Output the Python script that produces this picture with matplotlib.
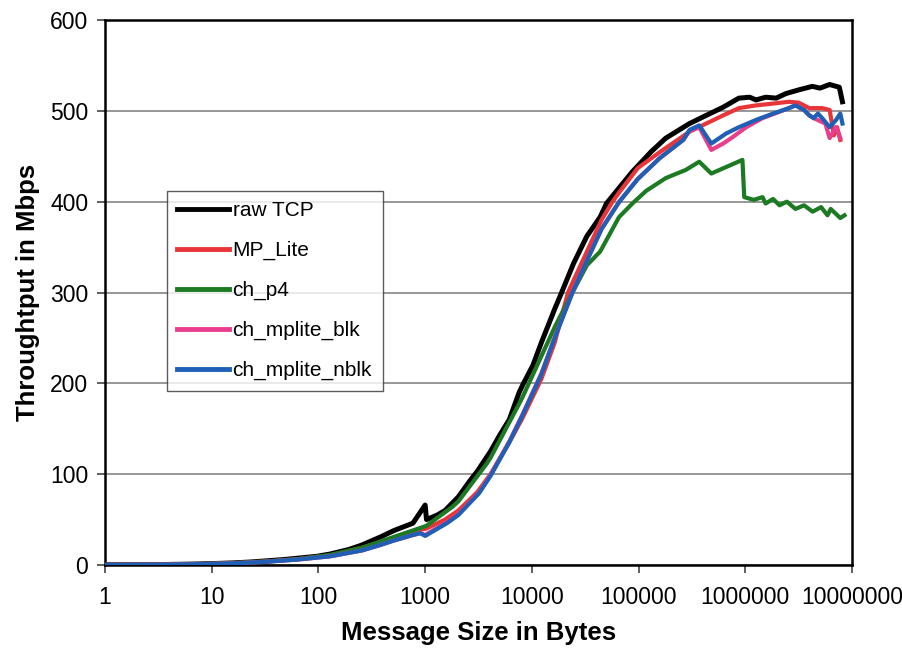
import numpy as np
import matplotlib.pyplot as plt
from matplotlib.ticker import FixedLocator, FixedFormatter

# values (message size in bytes, throughput in Mbps)
size_tcp = [1, 2, 3, 4, 6, 8, 12, 16, 24, 32, 48, 64, 96, 128, 192, 256, 384, 512, 768,
            1000, 1030, 1300, 1536, 2048, 2600, 3072, 4096, 5000, 6144, 7600, 8192, 10240,
            12288, 16384, 19000, 24576, 32768, 43600, 50000, 65536, 87500, 131072, 180000,
            300000, 430000, 620000, 870000, 1100000, 1260000, 1550000, 1950000, 2400000,
            3150000, 4250000, 5000000, 6160000, 7600000, 8130000]
tput_tcp = [0.15, 0.3, 0.45, 0.6, 0.9, 1.2, 1.8, 2.3, 3.4, 4.5, 6, 7.5, 9.5, 12, 17, 22, 31, 38, 46,
            66, 50, 55, 60, 75, 92, 103, 125, 143, 160, 190, 198, 220,
            245, 282, 300, 332, 362, 383, 398, 415, 433, 455, 470,
            486, 495, 504, 514, 515, 512, 515, 514, 519,
            523, 527, 525, 529, 526, 510]

size_mplite = [1, 2, 4, 8, 16, 32, 64, 128, 256, 512, 768, 1024, 1536, 2048, 3072, 4096, 6144,
               8192, 12288, 16384, 21800, 32768, 45000, 57000, 65536, 98304, 160000, 300000,
               430000, 620000, 870000, 1260000, 1820000, 2570000, 3160000, 3980000, 5250000,
               6170000, 6760000, 7240000, 7760000]
tput_mplite = [0.1, 0.25, 0.5, 1, 2, 3.8, 6.5, 10.5, 19, 30, 37, 40, 50, 60, 80, 100, 135,
               162, 205, 245, 300, 345, 380, 400, 410, 437, 455, 477,
               486, 495, 503, 506, 508, 510, 509, 503, 503,
               501, 473, 482, 468]

size_p4 = [1, 2, 4, 8, 16, 32, 64, 128, 256, 512, 768, 1024, 1800, 2048, 3800, 4096, 7800, 8192,
           12288, 16384, 24000, 32768, 43600, 65536, 87500, 118000, 180000, 277000, 370000,
           480000, 940000, 977000, 1200000, 1450000, 1550000, 1820000, 2090000, 2450000,
           2950000, 3550000, 4270000, 5130000, 5890000, 6310000, 7760000, 8500000]
tput_p4 = [0.1, 0.25, 0.5, 1, 2, 3.8, 6.5, 11, 19, 31, 38, 43, 64, 70, 112, 118, 180, 185,
           230, 262, 300, 330, 345, 383, 398, 412, 426, 435, 444,
           431, 446, 405, 402, 405, 398, 403, 396, 400,
           392, 396, 389, 394, 385, 392, 382, 385]

size_blk = [1, 2, 4, 8, 16, 32, 64, 128, 256, 380, 512, 768, 900, 1000, 1600, 2048, 3200, 4096,
            6144, 8192, 12288, 16384, 24000, 32768, 45000, 66000, 98304, 158000, 262144, 300000,
            370000, 480000, 620000, 760000, 1020000, 1450000, 2090000, 2950000, 3550000,
            3980000, 4370000, 5620000, 6170000, 7080000, 7760000]
tput_blk = [0.1, 0.2, 0.45, 0.9, 1.8, 3.5, 6, 9.5, 16, 22, 27, 33, 35, 33, 47, 56, 80, 99,
            136, 166, 211, 251, 300, 335, 370, 400, 425, 448, 468, 478,
            482, 457, 464, 471, 482, 492, 499, 506, 501,
            495, 492, 486, 470, 482, 470]

size_nblk = [1, 2, 4, 8, 16, 32, 64, 128, 256, 380, 512, 768, 900, 1000, 1600, 2048, 3200, 4096,
             6144, 8192, 12288, 16384, 24000, 32768, 45000, 66000, 98304, 158000, 262144, 300000,
             370000, 480000, 660000, 870000, 1260000, 1820000, 2570000, 2950000, 3550000,
             3980000, 4370000, 4790000, 5250000, 6170000, 7080000, 7760000, 8130000]
tput_nblk = [0.1, 0.2, 0.45, 0.9, 1.8, 3.5, 6, 9.5, 16, 22, 27, 33, 35, 32, 46, 55, 79, 98,
             135, 165, 210, 250, 300, 335, 370, 400, 425, 448, 468, 479,
             484, 464, 475, 482, 490, 497, 503, 506, 501,
             495, 492, 497, 492, 482, 490, 497, 486]

series = [
    ('raw TCP', size_tcp, tput_tcp, '#000000', 3.6),
    ('MP_Lite', size_mplite, tput_mplite, '#e8353a', 3.0),
    ('ch_p4', size_p4, tput_p4, '#1c7a22', 3.0),
    ('ch_mplite_blk', size_blk, tput_blk, '#e83e8c', 3.0),
    ('ch_mplite_nblk', size_nblk, tput_nblk, '#1f5fb5', 3.0),
]

xticks = [1, 10, 100, 1000, 10000, 100000, 1000000, 10000000]
xtick_labels = ['1', '10', '100', '1000', '10000', '100000', '1000000', '10000000']
yticks = [0, 100, 200, 300, 400, 500, 600]

plt.rcParams['font.family'] = ['Liberation Sans', 'DejaVu Sans']

fig = plt.figure(figsize=(9.02, 6.5), dpi=100)
ax = fig.add_axes([0.1164, 0.1308, 0.8282, 0.8384])

for label, xs, ys, color, lw in series:
    ax.plot(xs, ys, color=color, lw=lw, label=label, solid_joinstyle='round', zorder=3)

ax.set_xscale('log')
ax.set_xlim(1, 1e7)
ax.set_ylim(0, 600)
ax.xaxis.set_major_locator(FixedLocator(xticks))
ax.xaxis.set_major_formatter(FixedFormatter(xtick_labels))
ax.xaxis.set_minor_locator(FixedLocator([]))
ax.set_yticks(yticks)
ax.tick_params(axis='both', labelsize=16.5, length=6, width=1.2, direction='out', color='#444444')
ax.tick_params(axis='x', pad=9)
ax.tick_params(axis='y', pad=6)

ax.grid(axis='y', color='#7a7a7a', lw=1.1, zorder=1)
for s in ax.spines.values():
    s.set_linewidth(1.8)
    s.set_color('black')

ax.set_xlabel('Message Size in Bytes', fontsize=18.5, fontweight='bold', labelpad=9)
ax.set_ylabel('Throughtput in Mbps', fontsize=18.5, fontweight='bold', labelpad=7)

leg = ax.legend(loc='upper left', bbox_to_anchor=(0.083, 0.687), fontsize=15, frameon=True,
                fancybox=False, edgecolor='#333333', handlelength=2.5, handletextpad=0.15,
                labelspacing=1.0, borderpad=0.5, borderaxespad=0)
leg.get_frame().set_linewidth(1.0)
for line in leg.get_lines():
    line.set_linewidth(3.5)

fig.savefig('out.png', dpi=100)
